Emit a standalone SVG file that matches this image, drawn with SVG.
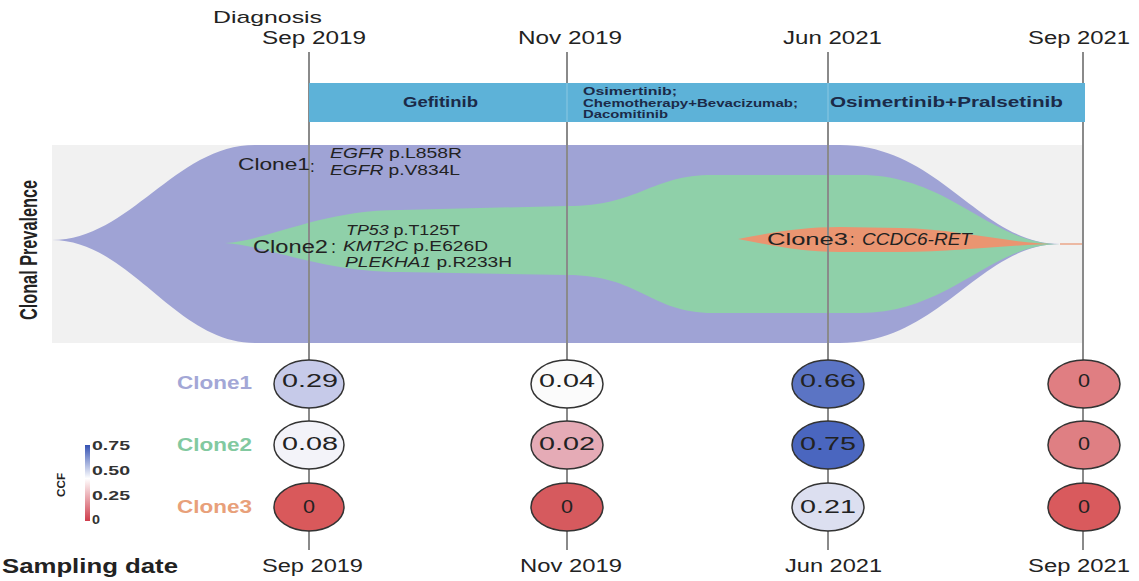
<svg xmlns="http://www.w3.org/2000/svg" width="1139" height="581" viewBox="0 0 1139 581">
<style>
text{font-family:"Liberation Sans",Arial,sans-serif;fill:#222}
.date{font-size:18px}
.bar{font-weight:bold;fill:#1b2a48}
.gene{font-size:14px}
.num{font-size:18px;text-anchor:middle}
.tl{stroke:#8a8a8a;stroke-width:2;fill:none}
.dot{stroke:#333;stroke-width:1.5}
.cl{font-size:18px;font-weight:bold}
.tick{font-size:12px;font-weight:bold;fill:#333}
</style>
<defs>
<linearGradient id="ccf" x1="0" y1="0" x2="0" y2="1">
<stop offset="0" stop-color="#3552b3"/>
<stop offset="0.44" stop-color="#ffffff"/>
<stop offset="1" stop-color="#cf3d4c"/>
</linearGradient>
</defs>
<rect width="1139" height="581" fill="#ffffff"/>
<rect x="52" y="145" width="1031" height="198" fill="#f1f1f1"/>
<g id="fish">
<path d="M52,240 C130,240 175,145 255,145 L840,145 C940,145 980,244 1060,244 C980,244 940,343 840,343 L255,343 C175,343 130,240 52,240 Z" fill="#9fa3d5"/>
<path d="M225,243 C270,240 320,210 400,210 L567,206 C640,206 650,175 713,175 L860,175 C950,175 990,244 1060,244 C990,244 950,313 860,313 L713,313 C650,313 640,275 567,275 L400,272 C320,272 270,246 225,243 Z" fill="#8fd0a9"/>
<path d="M738,239 C770,233 800,227 840,227 L900,228 C960,229 1010,244 1060,244 C1010,244 960,252 900,252 L840,252 C800,252 770,245 738,239 Z" fill="#ea9571"/>
<line x1="1060" y1="244" x2="1083" y2="244" stroke="#ea9571" stroke-width="1.2"/>
</g>
<g id="connectors">
<line class="tl" x1="309" y1="52" x2="309" y2="550"/>
<line class="tl" x1="567" y1="52" x2="567" y2="550"/>
<line class="tl" x1="828" y1="52" x2="828" y2="550"/>
<line class="tl" x1="1083" y1="52" x2="1083" y2="550"/>
</g>
<g id="treatments">
<rect x="309" y="83" width="776" height="39" fill="#5db2d8"/>
<line x1="567" y1="83" x2="567" y2="122" stroke="#7cc0df" stroke-width="1.5"/>
<line x1="828" y1="83" x2="828" y2="122" stroke="#7cc0df" stroke-width="1.5"/>
<text class="bar" x="403" y="107" font-size="14" textLength="75" lengthAdjust="spacingAndGlyphs">Gefitinib</text>
<text class="bar" x="583" y="95" font-size="10" textLength="94" lengthAdjust="spacingAndGlyphs">Osimertinib;</text>
<text class="bar" x="583" y="107" font-size="10" textLength="215" lengthAdjust="spacingAndGlyphs">Chemotherapy+Bevacizumab;</text>
<text class="bar" x="583" y="118" font-size="10" textLength="85" lengthAdjust="spacingAndGlyphs">Dacomitinib</text>
<text class="bar" x="830" y="107" font-size="15" textLength="233" lengthAdjust="spacingAndGlyphs">Osimertinib+Pralsetinib</text>
</g>
<g id="top-dates">
<text x="213" y="23" font-size="17" textLength="109" lengthAdjust="spacingAndGlyphs">Diagnosis</text>
<text class="date" x="262" y="44" textLength="104" lengthAdjust="spacingAndGlyphs">Sep 2019</text>
<text class="date" x="518" y="44" textLength="104" lengthAdjust="spacingAndGlyphs">Nov 2019</text>
<text class="date" x="783" y="44" textLength="99" lengthAdjust="spacingAndGlyphs">Jun 2021</text>
<text class="date" x="1028" y="44" textLength="102" lengthAdjust="spacingAndGlyphs">Sep 2021</text>
</g>
<g id="clone-labels">
<text font-size="17" font-weight="bold" text-anchor="middle" textLength="140" lengthAdjust="spacingAndGlyphs" transform="translate(37,250) scale(1.4,1) rotate(-90)">Clonal Prevalence</text>
<text x="238" y="170" font-size="17" textLength="72" lengthAdjust="spacingAndGlyphs">Clone1</text>
<text x="310" y="172" font-size="17">:</text>
<text class="gene" x="330" y="158" textLength="132" lengthAdjust="spacingAndGlyphs"><tspan font-style="italic">EGFR</tspan> p.L858R</text>
<text class="gene" x="330" y="175" textLength="130" lengthAdjust="spacingAndGlyphs"><tspan font-style="italic">EGFR</tspan> p.V834L</text>
<text x="253" y="253" font-size="18" textLength="75" lengthAdjust="spacingAndGlyphs">Clone2</text>
<text x="331" y="253" font-size="18">:</text>
<text class="gene" x="346" y="235" textLength="114" lengthAdjust="spacingAndGlyphs"><tspan font-style="italic">TP53</tspan> p.T125T</text>
<text class="gene" x="343" y="251" textLength="145" lengthAdjust="spacingAndGlyphs"><tspan font-style="italic">KMT2C</tspan> p.E626D</text>
<text class="gene" x="345" y="267" textLength="167" lengthAdjust="spacingAndGlyphs"><tspan font-style="italic">PLEKHA1</tspan> p.R233H</text>
<text x="767" y="245" font-size="16" textLength="81" lengthAdjust="spacingAndGlyphs">Clone3</text>
<text x="850" y="245" font-size="16">:</text>
<text x="862" y="245" font-size="16" font-style="italic" textLength="110" lengthAdjust="spacingAndGlyphs">CCDC6-RET</text>
</g>
<g id="row-labels">
<text class="cl" x="177" y="389" style="fill:#a3a7d6" textLength="75" lengthAdjust="spacingAndGlyphs">Clone1</text>
<text class="cl" x="177" y="451" style="fill:#82c9a0" textLength="75" lengthAdjust="spacingAndGlyphs">Clone2</text>
<text class="cl" x="177" y="513" style="fill:#e8a07a" textLength="75" lengthAdjust="spacingAndGlyphs">Clone3</text>
</g>
<g id="sep2019">
<ellipse class="dot" cx="309" cy="384" rx="35" ry="24" fill="#c6cae9"/>
<text class="num" x="310" y="387" textLength="56" lengthAdjust="spacingAndGlyphs">0.29</text>
<ellipse class="dot" cx="309" cy="445" rx="35" ry="24" fill="#f3f3f9"/>
<text class="num" x="310" y="450" textLength="56" lengthAdjust="spacingAndGlyphs">0.08</text>
<ellipse class="dot" cx="309" cy="507" rx="35" ry="24" fill="#d9595b"/>
<text class="num" x="309" y="513" textLength="12" lengthAdjust="spacingAndGlyphs">0</text>
</g>
<g id="nov2019">
<ellipse class="dot" cx="567" cy="384" rx="36" ry="24" fill="#fbfbfb"/>
<text class="num" x="567" y="387" textLength="56" lengthAdjust="spacingAndGlyphs">0.04</text>
<ellipse class="dot" cx="567" cy="445" rx="36" ry="24" fill="#e5abb6"/>
<text class="num" x="567" y="450" textLength="56" lengthAdjust="spacingAndGlyphs">0.02</text>
<ellipse class="dot" cx="567" cy="507" rx="36" ry="24" fill="#d65a5e"/>
<text class="num" x="567" y="513" textLength="12" lengthAdjust="spacingAndGlyphs">0</text>
</g>
<g id="jun2021">
<ellipse class="dot" cx="828" cy="384" rx="36" ry="24" fill="#5b74c4"/>
<text class="num" x="828" y="387" textLength="56" lengthAdjust="spacingAndGlyphs">0.66</text>
<ellipse class="dot" cx="828" cy="445" rx="36" ry="24" fill="#4a66bf"/>
<text class="num" x="828" y="450" textLength="56" lengthAdjust="spacingAndGlyphs">0.75</text>
<ellipse class="dot" cx="828" cy="507" rx="36" ry="24" fill="#dcdff0"/>
<text class="num" x="828" y="513" textLength="56" lengthAdjust="spacingAndGlyphs">0.21</text>
</g>
<g id="sep2021">
<ellipse class="dot" cx="1084" cy="384" rx="36" ry="24" fill="#e07e82"/>
<text class="num" x="1084" y="387" textLength="12" lengthAdjust="spacingAndGlyphs">0</text>
<ellipse class="dot" cx="1084" cy="445" rx="36" ry="24" fill="#df7f83"/>
<text class="num" x="1084" y="450" textLength="12" lengthAdjust="spacingAndGlyphs">0</text>
<ellipse class="dot" cx="1084" cy="507" rx="36" ry="24" fill="#d95a5d"/>
<text class="num" x="1084" y="513" textLength="12" lengthAdjust="spacingAndGlyphs">0</text>
</g>
<g id="legend">
<rect x="85" y="445" width="5" height="76" fill="url(#ccf)"/>
<text class="tick" x="92" y="450" textLength="38" lengthAdjust="spacingAndGlyphs">0.75</text>
<text class="tick" x="92" y="475" textLength="38" lengthAdjust="spacingAndGlyphs">0.50</text>
<text class="tick" x="92" y="500" textLength="38" lengthAdjust="spacingAndGlyphs">0.25</text>
<text class="tick" x="92" y="524" textLength="8" lengthAdjust="spacingAndGlyphs">0</text>
<text font-size="11" font-weight="bold" text-anchor="middle" textLength="24" lengthAdjust="spacingAndGlyphs" transform="translate(65,485) rotate(-90)">CCF</text>
</g>
<g id="bottom-dates">
<text x="2" y="573" font-size="20" font-weight="bold" textLength="176" lengthAdjust="spacingAndGlyphs">Sampling date</text>
<text class="date" x="262" y="572" textLength="101" lengthAdjust="spacingAndGlyphs">Sep 2019</text>
<text class="date" x="520" y="572" textLength="102" lengthAdjust="spacingAndGlyphs">Nov 2019</text>
<text class="date" x="785" y="572" textLength="97" lengthAdjust="spacingAndGlyphs">Jun 2021</text>
<text class="date" x="1028" y="572" textLength="102" lengthAdjust="spacingAndGlyphs">Sep 2021</text>
</g>
</svg>
